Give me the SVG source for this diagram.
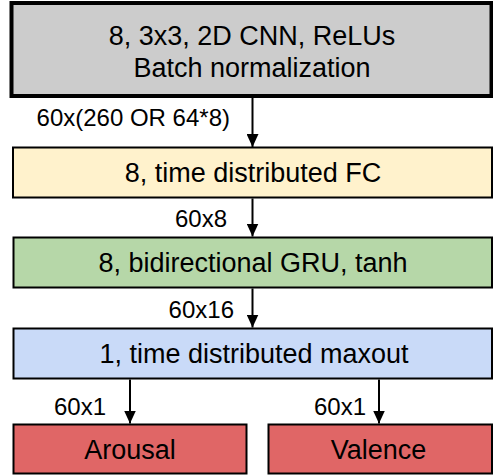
<svg xmlns="http://www.w3.org/2000/svg" width="493" height="475" viewBox="0 0 493 475">
<defs>
<marker id="ah" viewBox="0 0 13 12" refX="13" refY="6" markerWidth="13" markerHeight="12" markerUnits="userSpaceOnUse" orient="auto">
<path d="M0,0 L13,6 L0,12 Z" fill="#000"/>
</marker>
</defs>
<style>
.box{stroke:#000;stroke-width:2}
.t{font-family:"Liberation Sans",Arial,sans-serif;font-size:27px;fill:#000;text-anchor:middle}
.l{font-family:"Liberation Sans",Arial,sans-serif;font-size:24px;fill:#000;text-anchor:end}
.c{stroke:#000;stroke-width:2;fill:none}
</style>
<rect width="493" height="475" fill="#fff"/>
<g id="cnn">
<rect x="11.5" y="3" width="480" height="93" fill="#cccccc" stroke="#000" stroke-width="4"/>
<text class="t" x="252" y="45">8, 3x3, 2D CNN, ReLUs</text>
<text class="t" x="252" y="77">Batch normalization</text>
</g>
<g id="fc">
<rect class="box" x="13" y="147.5" width="479" height="50" fill="#fff2cc"/>
<text class="t" x="253" y="182">8, time distributed FC</text>
</g>
<g id="gru">
<rect class="box" x="13.5" y="237.5" width="478.5" height="50" fill="#b6d7a8"/>
<text class="t" x="253" y="272">8, bidirectional GRU, tanh</text>
</g>
<g id="maxout">
<rect class="box" x="13.5" y="328.5" width="478.5" height="50" fill="#c9daf8"/>
<text class="t" x="254" y="363">1, time distributed maxout</text>
</g>
<g id="arousal">
<rect class="box" x="13.5" y="424.5" width="233" height="49" fill="#e06666"/>
<text class="t" x="130" y="459">Arousal</text>
</g>
<g id="valence">
<rect class="box" x="268.5" y="424.5" width="223.5" height="49" fill="#e06666"/>
<text class="t" x="378.5" y="459">Valence</text>
</g>
<g id="connectors">
<line class="c" x1="252.5" y1="98" x2="252.5" y2="147" marker-end="url(#ah)"/>
<line class="c" x1="252.5" y1="198.5" x2="252.5" y2="236.5" marker-end="url(#ah)"/>
<line class="c" x1="252.5" y1="288.5" x2="252.5" y2="327.5" marker-end="url(#ah)"/>
<line class="c" x1="130" y1="379.5" x2="130" y2="423.5" marker-end="url(#ah)"/>
<line class="c" x1="379" y1="379.5" x2="379" y2="423.5" marker-end="url(#ah)"/>
<text class="l" x="230" y="126">60x(260 OR 64*8)</text>
<text class="l" x="227" y="227">60x8</text>
<text class="l" x="234" y="318">60x16</text>
<text class="l" x="106" y="415">60x1</text>
<text class="l" x="366" y="415">60x1</text>
</g>
</svg>
